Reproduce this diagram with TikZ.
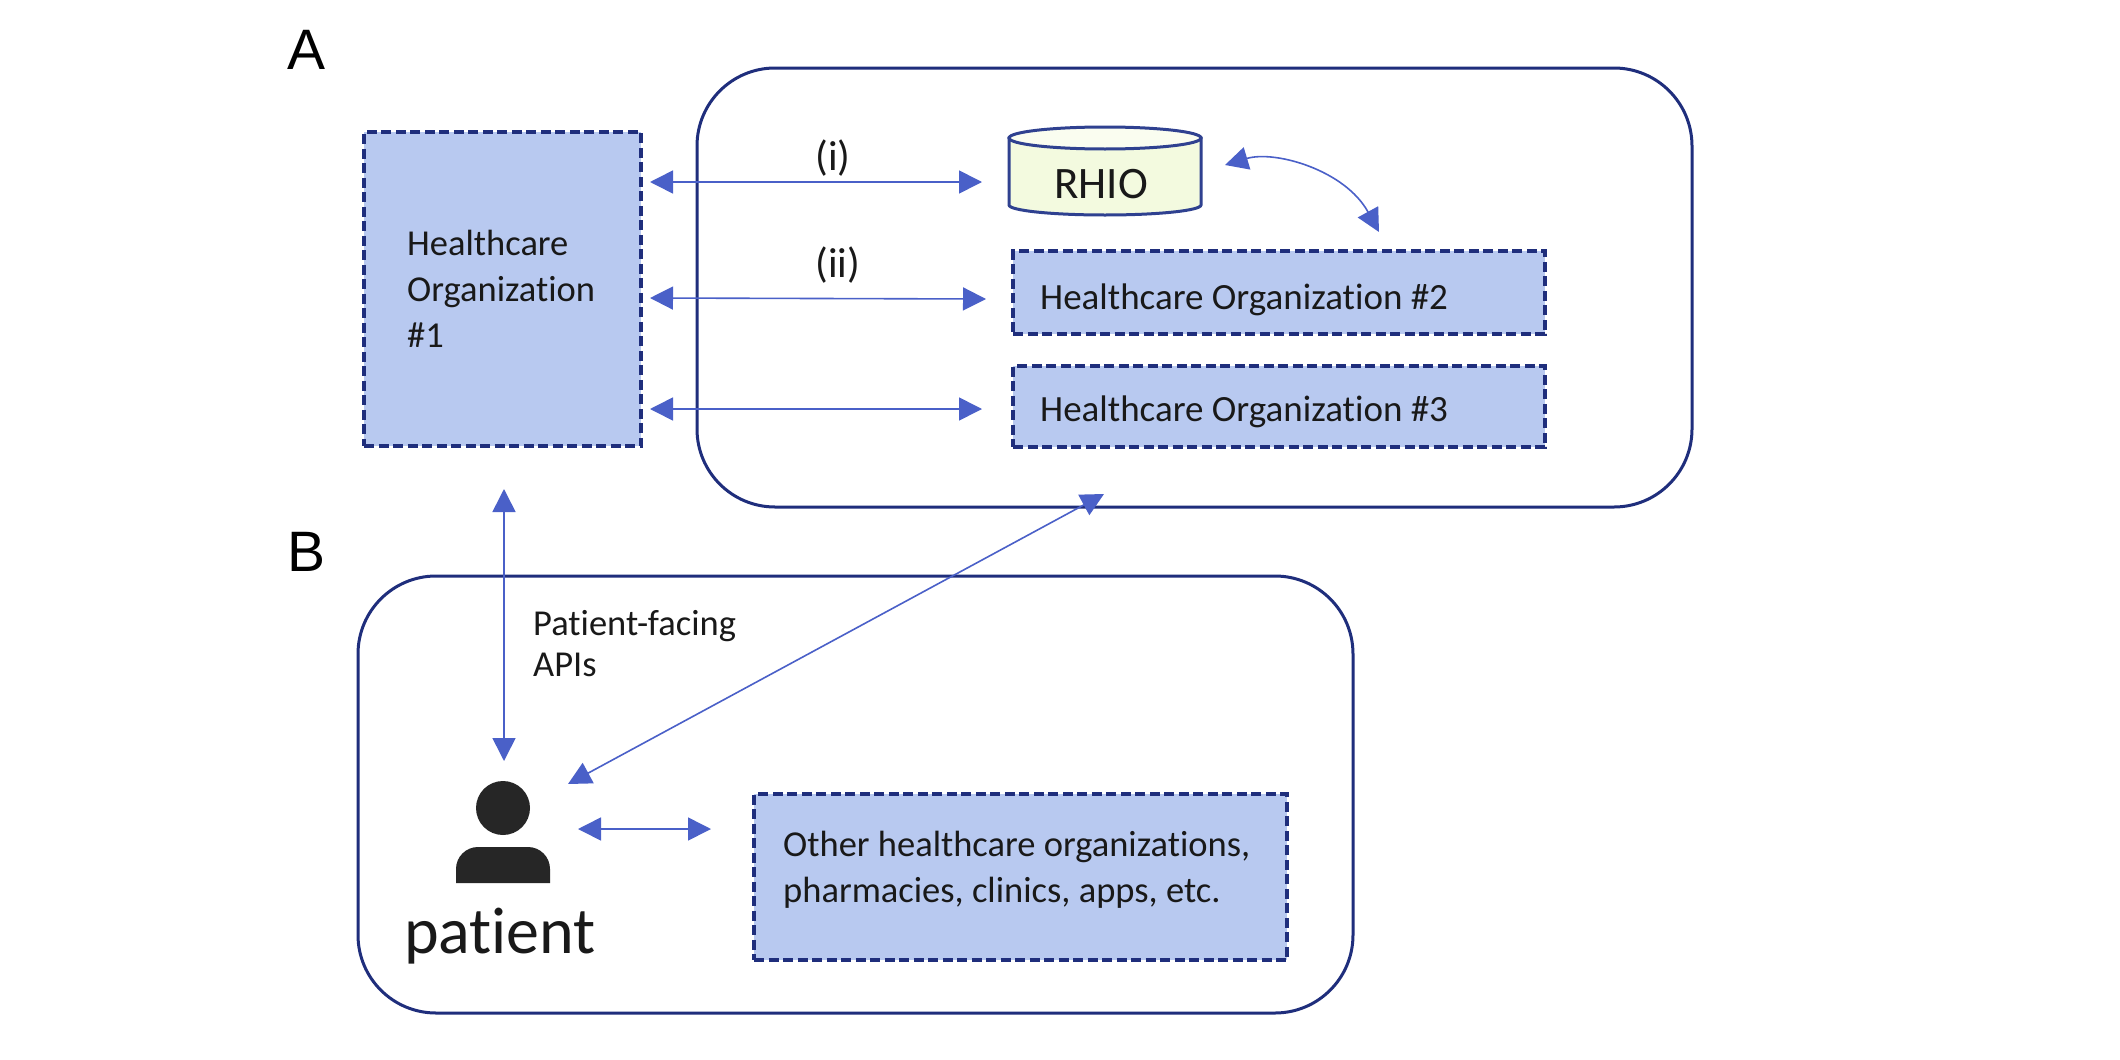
\documentclass[tikz,border=0pt]{standalone}
\usepackage{fontspec}
\setmainfont[Ligatures=NoCommon]{Carlito}
\newfontfamily\headfont{Liberation Sans}
\usetikzlibrary{arrows.meta,positioning}
\definecolor{boxfill}{HTML}{B8C9F0}
\definecolor{navy}{HTML}{1F2E7C}
\definecolor{cyledge}{HTML}{2F4190}
\definecolor{arrowblue}{HTML}{4A60C8}
\definecolor{cylfill}{HTML}{F3FADF}
\definecolor{cyltop}{HTML}{FAFDF0}
\definecolor{ink}{HTML}{262626}
\tikzset{
  px/.style={x=1pt,y=-1pt},
  orgbox/.style={draw=navy,fill=boxfill,line width=3.4pt,dash pattern=on 10pt off 4.5pt,anchor=north west,inner sep=0pt,outer sep=0pt},
  group/.style={draw=navy,line width=3pt,rounded corners=78pt,anchor=north west,inner sep=0pt,outer sep=0pt},
  twoway/.style={draw=arrowblue,line width=1.6pt,{Triangle[length=23pt,width=23pt,fill=arrowblue]}-{Triangle[length=23pt,width=23pt,fill=arrowblue]}},
  txt/.style={font=\fontsize{37}{46}\selectfont,text=black!90,align=left,anchor=west,inner sep=0pt},
  head/.style={font=\headfont\fontsize{57}{57}\selectfont,text=black,inner sep=0pt},
  cyl/.style={draw=cyledge,line width=3pt},
}
\begin{document}
\begin{tikzpicture}[px]
\useasboundingbox (0,0) rectangle (2120,1060);
\fill[white] (0,0) rectangle (2120,1060);
% groups
\node[group,minimum width=995pt,minimum height=439pt] (groupA) at (697,68) {};
\node[group,minimum width=995pt,minimum height=437pt] (groupB) at (358,576) {};
% organisation boxes
\node[orgbox,minimum width=277pt,minimum height=314pt] (ho1) at (364,132) {};
\node[orgbox,minimum width=532pt,minimum height=83pt] (ho2) at (1013,251) {};
\node[orgbox,minimum width=532pt,minimum height=81pt] (ho3) at (1013,366) {};
\node[orgbox,minimum width=533pt,minimum height=166pt] (other) at (754,794) {};
\node[txt,font=\fontsize{36.5}{46}\selectfont] (ho1t) at (407,289) {Healthcare\\Organization\\\#1};
\node[txt] (ho2t) at (1040,300) {Healthcare Organization \#2};
\node[txt] (ho3t) at (1040,412) {Healthcare Organization \#3};
\node[txt,font=\fontsize{36.5}{46}\selectfont] (othert) at (783,870) {Other healthcare organizations,\\pharmacies, clinics, apps, etc.};
% RHIO cylinder
\path[cyl,fill=cylfill] (1009,138) -- (1009,205) arc[start angle=180,end angle=360,x radius=96pt,y radius=10pt] -- (1201,138) -- cycle;
\path[cyl,fill=cyltop] (1105,138) ellipse[x radius=96pt,y radius=11pt];
\node[txt,anchor=center,font=\fontsize{45}{45}\selectfont] (rhio) at (1101,184) {RHIO};
% labels
\node[head] (labA) at (307,50) {A};
\node[head] (labB) at (307,552) {B};
\node[txt,anchor=center,font=\fontsize{42}{46}\selectfont] (li) at (833,158) {(i)};
\node[txt,anchor=center,font=\fontsize{42}{46}\selectfont] (lii) at (838,265) {(ii)};
\node[txt,font=\fontsize{36.5}{41}\selectfont] (api) at (533,644) {Patient-facing\\APIs};
\node[txt,anchor=center,font=\fontsize{66}{66}\selectfont] (ptxt) at (500,936) {patient};
% person icon
\node[circle,fill=ink,minimum size=54pt,inner sep=0pt] (phead) at (503,808) {};
\path[fill=ink,rounded corners=22pt] (456,883) [sharp corners] -- (456,870) [rounded corners=22pt] -- (456,847) -- (550,847) [sharp corners] -- (550,883) -- cycle;
% arrow ends
\coordinate (a1l) at (650,182);  \coordinate (a1r) at (982,182);
\coordinate (a2l) at (650,298);  \coordinate (a2r) at (986,299);
\coordinate (a3l) at (650,409);  \coordinate (a3r) at (982,409);
\coordinate (vt)  at (504,489);  \coordinate (vb)  at (504,761);
\coordinate (dt)  at (1104,494); \coordinate (db)  at (568,784);
\coordinate (hl)  at (578,829);  \coordinate (hr)  at (711,829);
\coordinate (cs)  at (1225,165); \coordinate (ce)  at (1379,232);
\draw[twoway] (a1l) -- (a1r);
\draw[twoway] (a2l) -- (a2r);
\draw[twoway] (a3l) -- (a3r);
\draw[twoway] (vt) -- (vb);
\draw[twoway] (dt) -- (db);
\draw[twoway] (hl) -- (hr);
\draw[twoway] (cs) .. controls (1275,150) and (1345,170) .. (ce);
\end{tikzpicture}
\end{document}
